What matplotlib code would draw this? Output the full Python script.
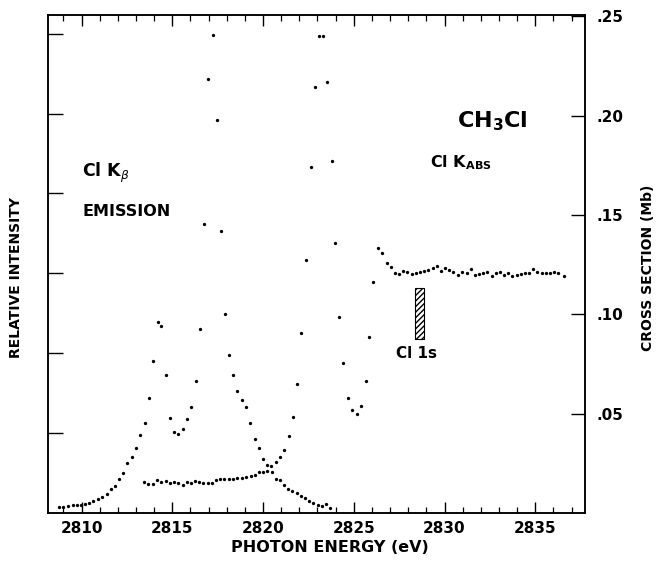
import numpy as np
import matplotlib
matplotlib.use("Agg")
import matplotlib.pyplot as plt
from matplotlib.patches import Rectangle

plt.rcParams['font.family'] = ['DejaVu Sans']
plt.rcParams['mathtext.fontset'] = 'dejavusans'

# Cl K-beta emission (relative intensity, plotted on cross-section scale)
emis_e = [2808.78, 2809.00, 2809.27, 2809.52, 2809.74, 2809.96, 2810.19, 2810.43,
          2810.65, 2810.91, 2811.15, 2811.39, 2811.63, 2811.85, 2812.07, 2812.30,
          2812.52, 2812.77, 2813.02, 2813.24, 2813.48, 2813.72, 2813.96, 2814.20,
          2814.40, 2814.66, 2814.88, 2815.10, 2815.33, 2815.58, 2815.80, 2816.03,
          2816.31, 2816.53, 2816.77, 2816.99, 2817.23, 2817.47, 2817.69, 2817.91,
          2818.13, 2818.36, 2818.58, 2818.83, 2819.08, 2819.30, 2819.54, 2819.76,
          2819.98, 2820.20, 2820.44, 2820.70, 2820.94, 2821.17, 2821.39, 2821.61,
          2821.86, 2822.09, 2822.31, 2822.55, 2822.77, 2823.01, 2823.23, 2823.47,
          2823.69]
emis_i = [0.0032, 0.0032, 0.0037, 0.0040, 0.0039, 0.0039, 0.0044, 0.0049,
          0.0059, 0.0069, 0.0081, 0.0094, 0.0121, 0.0137, 0.0171, 0.0200,
          0.0250, 0.0283, 0.0326, 0.0391, 0.0451, 0.0580, 0.0766, 0.0960,
          0.0941, 0.0695, 0.0478, 0.0406, 0.0398, 0.0423, 0.0473, 0.0533,
          0.0666, 0.0928, 0.1453, 0.2184, 0.2404, 0.1976, 0.1418, 0.1000,
          0.0797, 0.0695, 0.0614, 0.0569, 0.0533, 0.0451, 0.0372, 0.0326,
          0.0270, 0.0242, 0.0237, 0.0170, 0.0166, 0.0141, 0.0121, 0.0111,
          0.0102, 0.0087, 0.0074, 0.0062, 0.0052, 0.0040, 0.0035, 0.0044,
          0.0024]

# Cl K absorption cross section (Mb)
abs_e = [2813.44, 2813.68, 2813.92, 2814.16, 2814.40, 2814.64, 2814.88, 2815.10,
         2815.33, 2815.58, 2815.80, 2816.03, 2816.27, 2816.49, 2816.71, 2816.95,
         2817.19, 2817.41, 2817.63, 2817.87, 2818.13, 2818.33, 2818.58, 2818.83,
         2819.06, 2819.32, 2819.56, 2819.78, 2820.00, 2820.24, 2820.48, 2820.70,
         2820.94, 2821.17, 2821.42, 2821.65, 2821.87, 2822.11, 2822.35, 2822.63,
         2822.87, 2823.07, 2823.29, 2823.54, 2823.79, 2823.98, 2824.20, 2824.42,
         2824.67, 2824.92, 2825.16, 2825.40, 2825.66, 2825.84, 2826.08, 2826.35,
         2826.57, 2826.82, 2827.04, 2827.27, 2827.49, 2827.73, 2827.95, 2828.19,
         2828.41, 2828.65, 2828.87, 2829.11, 2829.35, 2829.57, 2829.79, 2830.03,
         2830.25, 2830.48, 2830.76, 2830.98, 2831.22, 2831.44, 2831.68, 2831.90,
         2832.14, 2832.36, 2832.60, 2832.82, 2833.06, 2833.28, 2833.52, 2833.74,
         2833.98, 2834.20, 2834.43, 2834.66, 2834.89, 2835.11, 2835.36, 2835.58,
         2835.81, 2836.03, 2836.27, 2836.58]
abs_s = [0.0158, 0.0147, 0.0144, 0.0166, 0.0155, 0.0163, 0.0149, 0.0156,
         0.0152, 0.0141, 0.0156, 0.0151, 0.0161, 0.0158, 0.0152, 0.0152,
         0.0152, 0.0166, 0.0171, 0.0173, 0.0170, 0.0170, 0.0178, 0.0178,
         0.0183, 0.0188, 0.0191, 0.0205, 0.0205, 0.0213, 0.0208, 0.0255,
         0.0283, 0.0317, 0.0388, 0.0483, 0.0648, 0.0906, 0.1273, 0.1740,
         0.2144, 0.2401, 0.2401, 0.2168, 0.1772, 0.1357, 0.0988, 0.0753,
         0.0580, 0.0518, 0.0497, 0.0538, 0.0666, 0.0887, 0.1164, 0.1332,
         0.1307, 0.1257, 0.1237, 0.1206, 0.1201, 0.1219, 0.1214, 0.1203,
         0.1209, 0.1214, 0.1218, 0.1223, 0.1232, 0.1243, 0.1219, 0.1232,
         0.1223, 0.1214, 0.1198, 0.1214, 0.1206, 0.1226, 0.1198, 0.1203,
         0.1209, 0.1214, 0.1194, 0.1206, 0.1214, 0.1198, 0.1209, 0.1193,
         0.1198, 0.1201, 0.1206, 0.1206, 0.1226, 0.1214, 0.1209, 0.1206,
         0.1209, 0.1214, 0.1206, 0.1193]

right_ticks = [0.05, 0.10, 0.15, 0.20, 0.25]
right_labels = ['.05', '.10', '.15', '.20', '.25']
left_ticks = [0.0403, 0.0805, 0.1208, 0.1611, 0.2008, 0.2411]

fig = plt.figure(figsize=(6.57, 5.61), dpi=100)
ax = fig.add_axes([48/657, 48/561, 537/657, 498/561])

ax.plot(emis_e, emis_i, 'o', color='black', ms=2.4, mew=0)
ax.plot(abs_e, abs_s, 'o', color='black', ms=2.4, mew=0)

ax.set_xlim(2808.15, 2837.74)
ax.set_ylim(0, 0.2506)

# x ticks: labelled every 5 eV, small ticks every 1 eV, inside, top and bottom
ax.set_xticks([2810, 2815, 2820, 2825, 2830, 2835])
ax.set_xticks(np.arange(2809, 2838), minor=True)
ax.tick_params(axis='x', which='major', direction='in', length=8, width=1,
               top=True, labelsize=11, pad=6)
ax.tick_params(axis='x', which='minor', direction='in', length=4, width=0.9,
               top=True)
for lab in ax.get_xticklabels():
    lab.set_fontweight('bold')

# left axis: unlabelled ticks
ax.set_yticks(left_ticks)
ax.set_yticklabels([])
ax.tick_params(axis='y', direction='in', length=11, width=1)

# right axis: cross section
ax2 = ax.twinx()
ax2.set_ylim(0, 0.2506)
ax2.set_yticks(right_ticks)
ax2.set_yticklabels(right_labels, fontweight='bold')
ax2.tick_params(axis='y', direction='in', length=10, width=1, labelsize=11, pad=8)

for a in (ax, ax2):
    for s in a.spines.values():
        s.set_linewidth(1.1)

# annotations
ax.text(2832.62, 0.1973, r'CH$_{\mathbf{3}}$Cl', fontsize=16, fontweight='bold',
        ha='center', va='center')
ax.text(2829.20, 0.1741, r'Cl K$_{\mathbf{ABS}}$', fontsize=11.5, fontweight='bold',
        ha='left', va='baseline')
ax.text(2810.03, 0.1691, r'Cl K$_{\beta}$', fontsize=12.5, fontweight='bold',
        ha='left', va='baseline')
ax.text(2810.03, 0.1495, 'EMISSION', fontsize=11.5, fontweight='bold',
        ha='left', va='baseline')
ax.text(2827.33, 0.0780, 'Cl 1s', fontsize=11, fontweight='bold',
        ha='left', va='baseline')
ax.add_patch(Rectangle((2828.37, 0.0876), 0.5, 0.0256, fill=False,
                       hatch='//////', edgecolor='black', linewidth=0.8))

fig.text(330/657, 1 - 547/561, 'PHOTON ENERGY (eV)', fontsize=11.5,
         fontweight='bold', ha='center', va='center')
fig.text(16/657, 1 - 277/561, 'RELATIVE INTENSITY', fontsize=10,
         fontweight='bold', ha='center', va='center', rotation=90)
fig.text(648/657, 1 - 268/561, 'CROSS SECTION (Mb)', fontsize=10,
         fontweight='bold', ha='center', va='center', rotation=90)

fig.savefig('out.png', dpi=100)
